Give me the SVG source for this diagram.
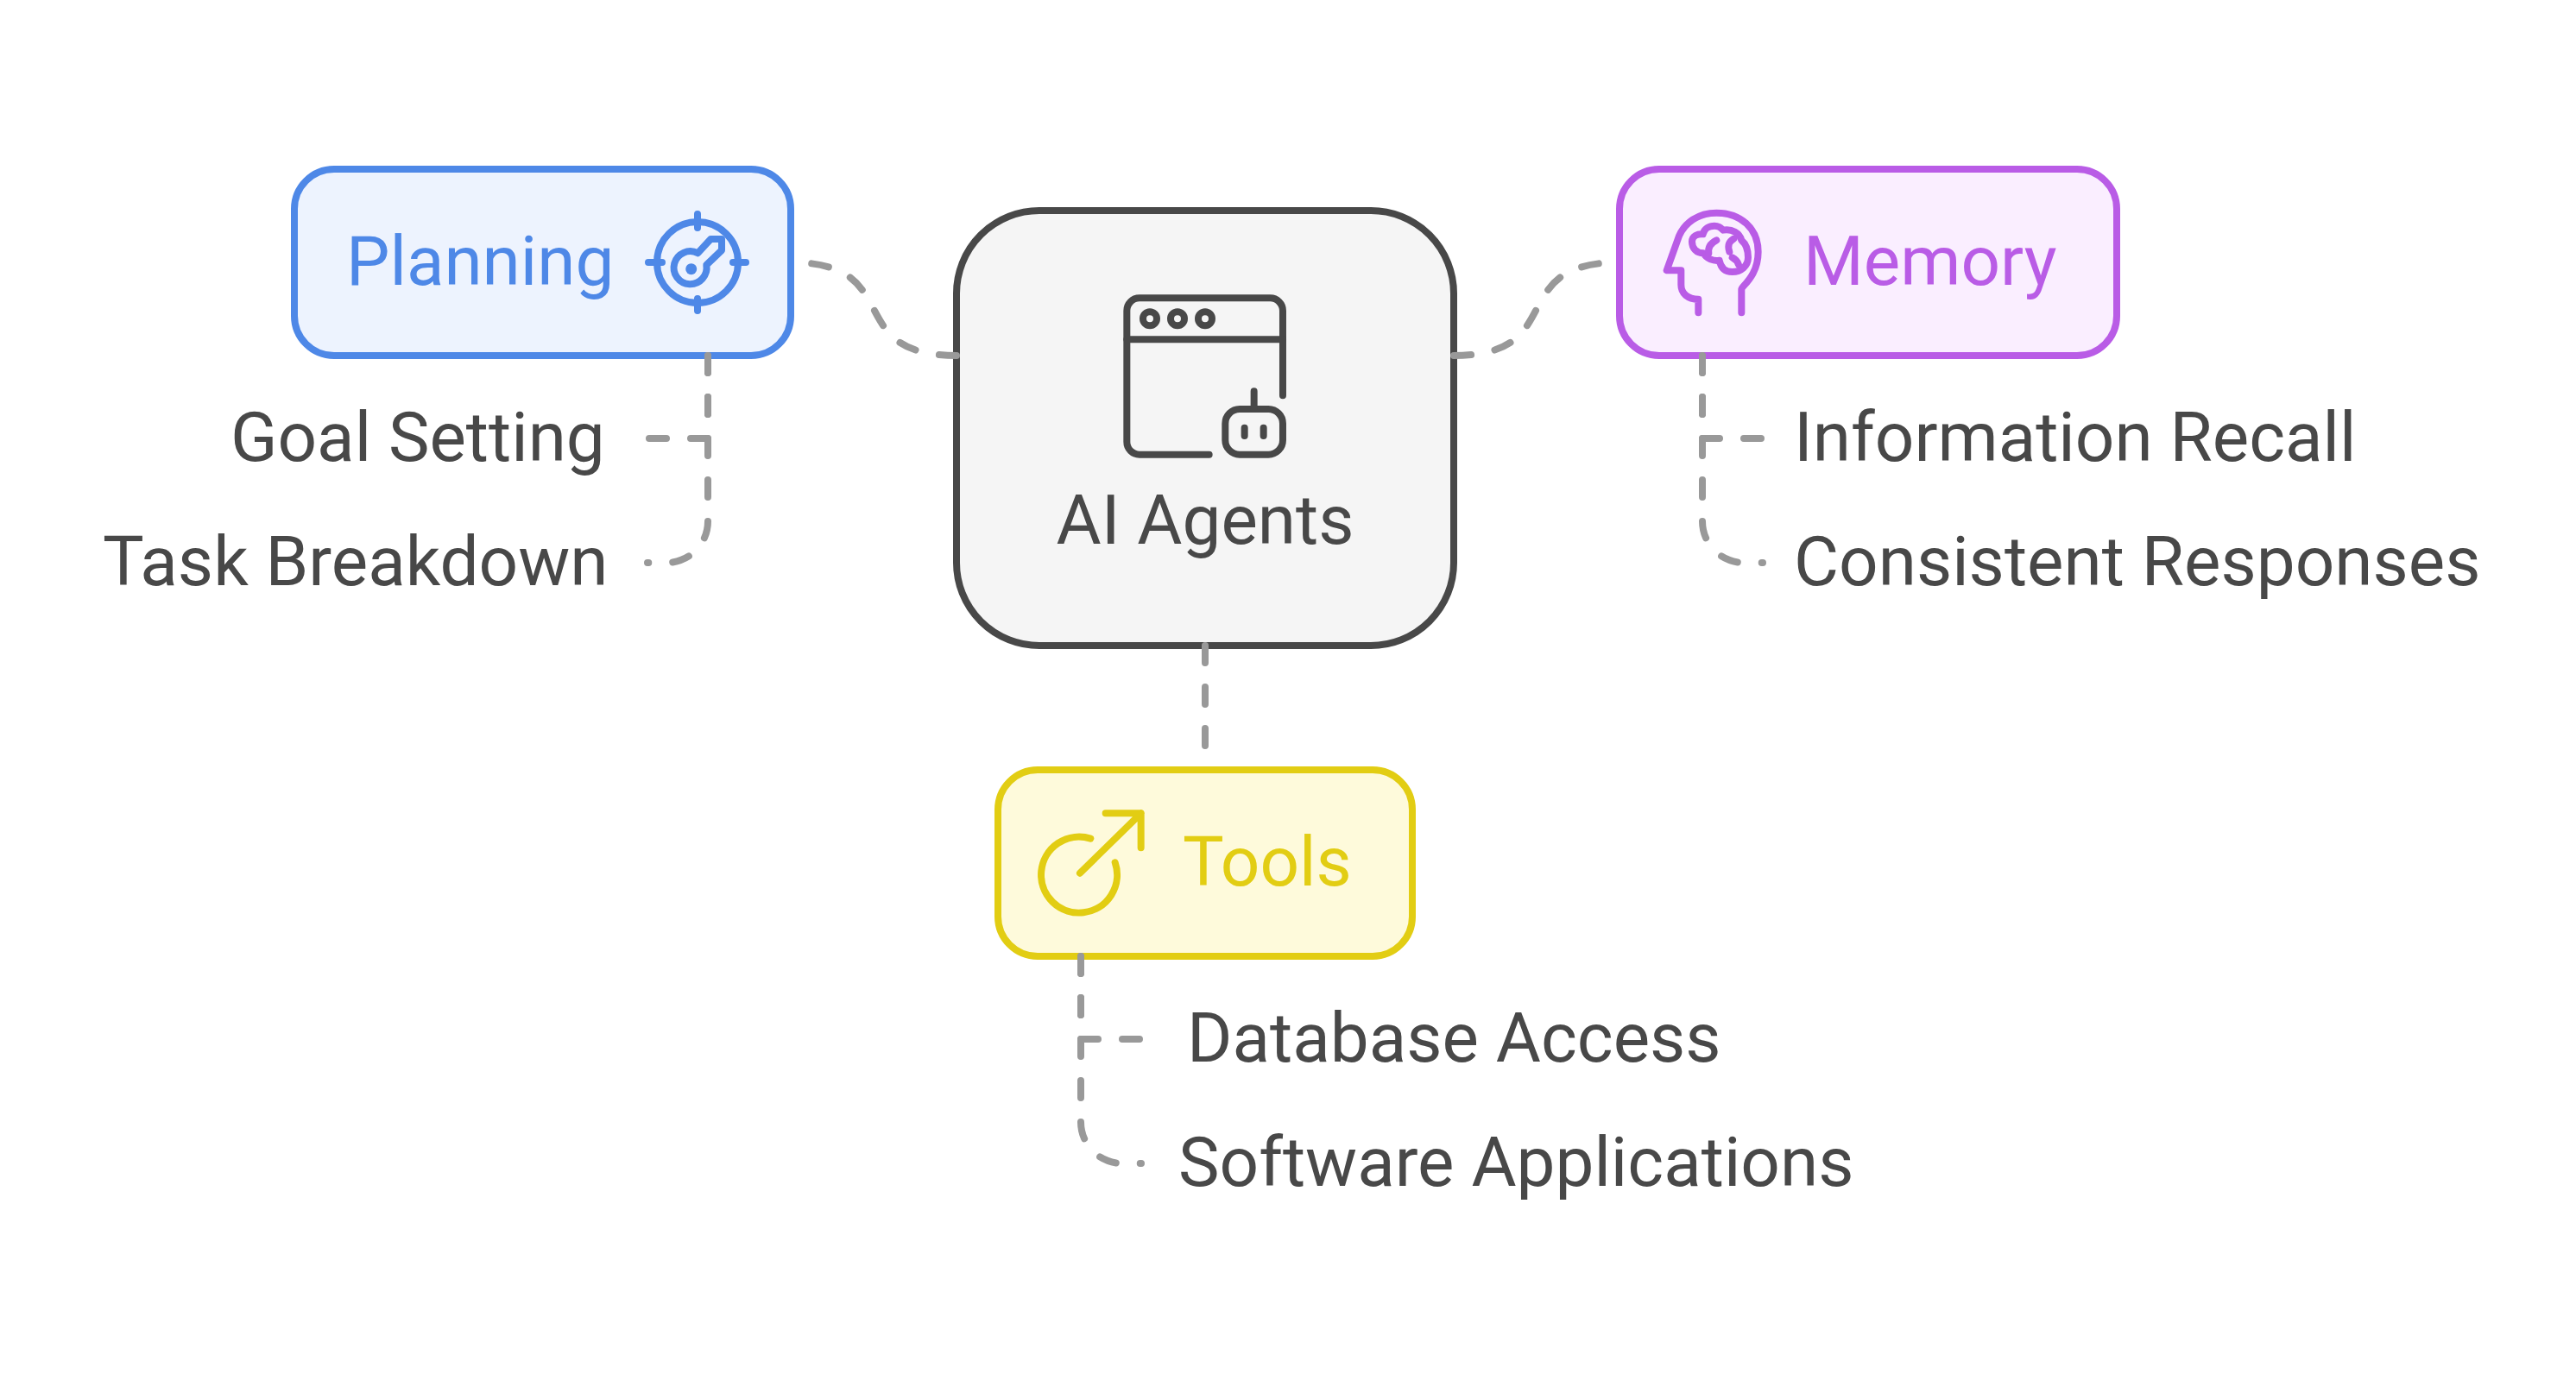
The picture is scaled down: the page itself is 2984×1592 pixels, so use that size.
<svg xmlns="http://www.w3.org/2000/svg" width="2984" height="1592" viewBox="0 0 2984 1592">
  <style>
    text { font-family: Roboto, "Liberation Sans", sans-serif; font-size: 80px; fill: #484848; }
    text.blue { fill: #4e88e7; }
    text.purple { fill: #b95ce6; }
    text.yellow { fill: #e2cd13; }
    .box { stroke-width: 8; }
    .ic { fill: none; stroke-width: 8; stroke-linecap: round; stroke-linejoin: round; }
    .ic24 { fill: none; stroke-width: 24; stroke-linecap: round; stroke-linejoin: round; }
    .link { fill: none; stroke: #999999; stroke-width: 8; stroke-linecap: round; stroke-linejoin: round; stroke-dasharray: 20 28; }
  </style>
  <rect width="2984" height="1592" fill="#ffffff"/>

  <g id="ai-agents">
    <rect class="box" x="1108" y="244" width="576" height="504" rx="96" fill="#f5f5f5" stroke="#484848"/>
    <g class="ic24" stroke="#484848" transform="translate(1280 330) scale(0.3333)">
      <path d="M618 385V90A44 44 0 0 0 574 46H120A44 44 0 0 0 76 90V546A44 44 0 0 0 120 590H362"/>
      <path d="M76 190H618"/>
      <circle cx="156" cy="118" r="24"/>
      <circle cx="252" cy="118" r="24"/>
      <circle cx="348" cy="118" r="24"/>
      <rect x="418" y="432" width="200" height="158" rx="50"/>
      <path d="M518 370V432M485 497V525M551 497V525"/>
    </g>
    <text x="1396" y="630" text-anchor="middle">AI Agents</text>
  </g>

  <g id="planning">
    <rect class="box" x="341" y="196" width="575" height="216" rx="46" fill="#edf3fe" stroke="#4e88e7"/>
    <g class="ic" stroke="#4e88e7">
      <circle cx="808" cy="304" r="47"/>
      <path d="M808 248V264M808 346V360M751 304H767M849 304H864"/>
      <path d="M808.300 293.300L823.300 277H836V290L818.300 307A19 19 0 1 1 808.300 293.300Z"/>
    </g>
    <circle cx="800.700" cy="311.700" r="6.500" fill="#4e88e7"/>
    <text class="blue" x="401" y="330">Planning</text>
  </g>

  <g id="memory">
    <rect class="box" x="1876" y="196" width="576" height="216" rx="46" fill="#faeeff" stroke="#b95ce6"/>
    <g class="ic24" stroke="#b95ce6" transform="translate(1910 230) scale(0.3333)">
      <path d="M322 397V315C322 305 380 270 380 185C380 105 320 50 235 50C170 50 125 85 105 130L62 250H112V300C112 330 135 350 172 350V397"/>
      <path d="M190 190C165 190 150 172 150 150C150 130 170 122 188 124C192 105 210 95 228 95C242 95 252 102 258 110C290 105 315 120 322 145C340 160 345 185 345 205C345 235 320 255 290 255C265 255 250 240 245 215C225 218 200 210 190 190Z"/>
      <path d="M235 145C215 155 205 170 208 190M295 140C280 150 272 160 280 185M290 205C300 210 308 218 312 230"/>
    </g>
    <text class="purple" x="2089" y="330">Memory</text>
  </g>

  <g id="tools">
    <rect class="box" x="1156" y="892" width="480" height="216" rx="46" fill="#fefadb" stroke="#e2cd13"/>
    <g class="ic24" stroke="#e2cd13" transform="translate(1190 920) scale(0.3333)">
      <path d="M220 155A132 132 0 1 0 305 238"/>
      <path d="M183 275L395 67M272 67H395V187"/>
    </g>
    <text class="yellow" x="1370" y="1026">Tools</text>
  </g>

  <g id="goal-setting"><text x="267" y="534">Goal Setting</text></g>
  <g id="task-breakdown"><text x="119" y="678">Task Breakdown</text></g>
  <g id="information-recall"><text x="2078" y="534">Information Recall</text></g>
  <g id="consistent-responses"><text x="2078" y="678">Consistent Responses</text></g>
  <g id="database-access"><text x="1375" y="1230">Database Access</text></g>
  <g id="software-applications"><text x="1365" y="1374">Software Applications</text></g>

  <g id="connectors">
    <path class="link" d="M1108 412C973 412 1051 304 916 304"/>
    <path class="link" d="M1684 412C1819 412 1741 304 1876 304"/>
    <path class="link" d="M1396 748V868"/>
    <path class="link" d="M820 412V508H752"/>
    <path class="link" d="M820 412V604A48 48 0 0 1 772 652H750"/>
    <path class="link" d="M1972 412V508H2040"/>
    <path class="link" d="M1972 412V604A48 48 0 0 0 2020 652H2042"/>
    <path class="link" d="M1252 1108V1204H1320"/>
    <path class="link" d="M1252 1108V1300A48 48 0 0 0 1300 1348H1322"/>
  </g>
</svg>
